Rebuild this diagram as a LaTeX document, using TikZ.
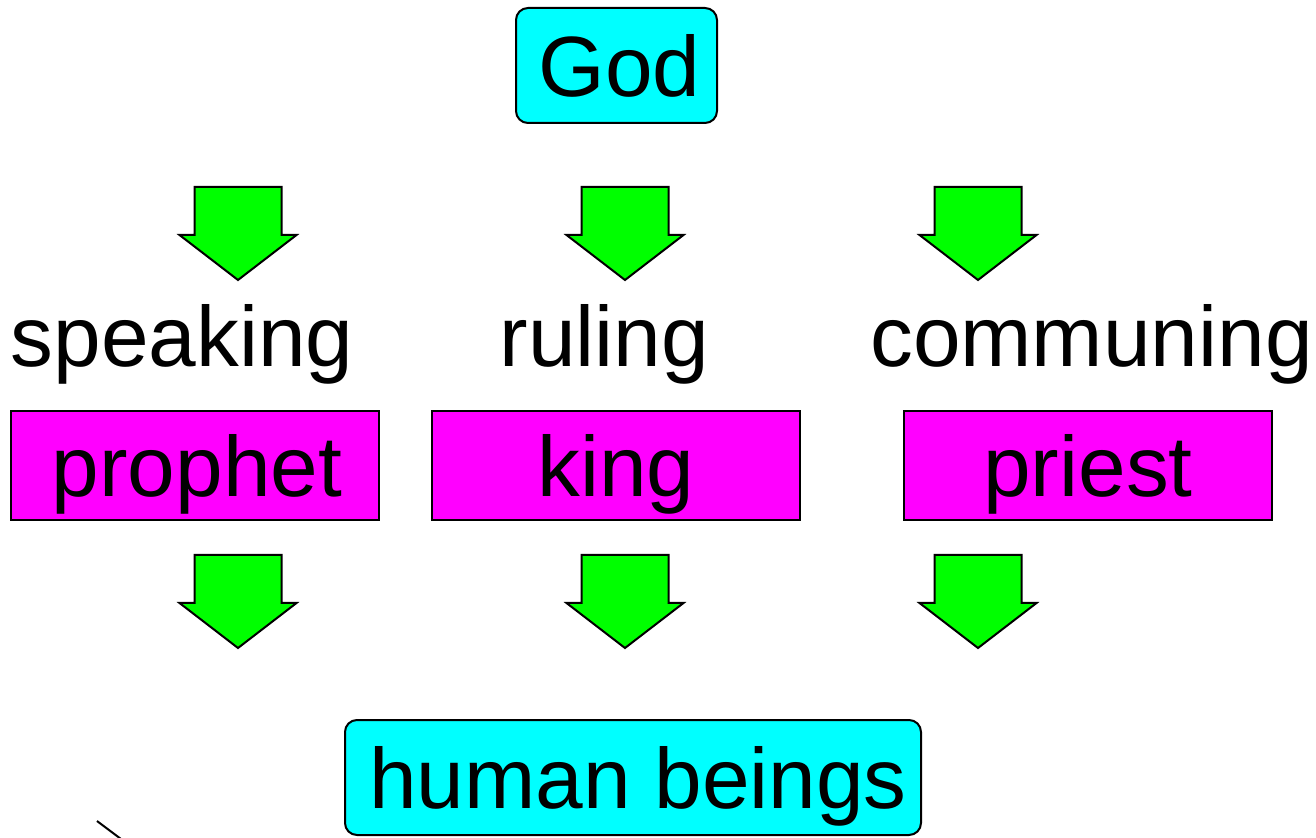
\documentclass[tikz,border=0pt]{standalone}
\usepackage{fontspec}
\setmainfont{Liberation Sans}
\definecolor{cyanbox}{HTML}{00FFFF}
\definecolor{magbox}{HTML}{FF00FF}
\definecolor{greenarrow}{HTML}{00FF00}
\begin{document}
\begin{tikzpicture}[x=0.5pt,y=-0.5pt,
  bigtext/.style={font=\fontsize{42.8pt}{48pt}\selectfont},
  cyanbox/.style={bigtext,draw=black,line width=1pt,fill=cyanbox,rounded corners=6pt,
    inner sep=0pt,text height=30.6pt,text depth=0pt,minimum height=57.5pt},
  magbox/.style={bigtext,draw=black,line width=1pt,fill=magbox,
    inner sep=0pt,text height=30.6pt,text depth=0pt,minimum height=54.5pt,minimum width=184pt},
  label/.style={bigtext,anchor=base,inner sep=0pt},
  downarrow/.style={draw=black,line width=1pt,fill=greenarrow,line join=miter}
]
\useasboundingbox (0,0) rectangle (1316,838);
% boxes
\node[cyanbox,minimum width=100.5pt] (god) at (616.5,65.5) {\hspace*{3pt}God};
\node[cyanbox,minimum width=288pt] (human) at (633,777.5) {\hspace*{5pt}human beings};
\node[magbox] (prophet) at (195,465.5) {\hspace*{2pt}prophet};
\node[magbox] (king) at (616,465.5) {king};
\node[magbox] (priest) at (1088,465.5) {priest};
% labels
\node[label] (speaking) at (182,367) {speaking};
\node[label] (ruling) at (604.5,367) {ruling};
\node[label] (communing) at (1091.5,367) {communing};
% arrows
\foreach \cx/\yt in {238/187,625/187,978/187,238/555,625/555,978/555}{
  \draw[downarrow] (\cx-43.5,\yt) -- (\cx+43.5,\yt) -- (\cx+43.5,\yt+48)
    -- (\cx+58.5,\yt+48) -- (\cx,\yt+93) -- (\cx-58.5,\yt+48)
    -- (\cx-43.5,\yt+48) -- cycle;
}
% stray mark
\draw[line width=1pt] (97,821) -- (121,839);
\end{tikzpicture}
\end{document}
